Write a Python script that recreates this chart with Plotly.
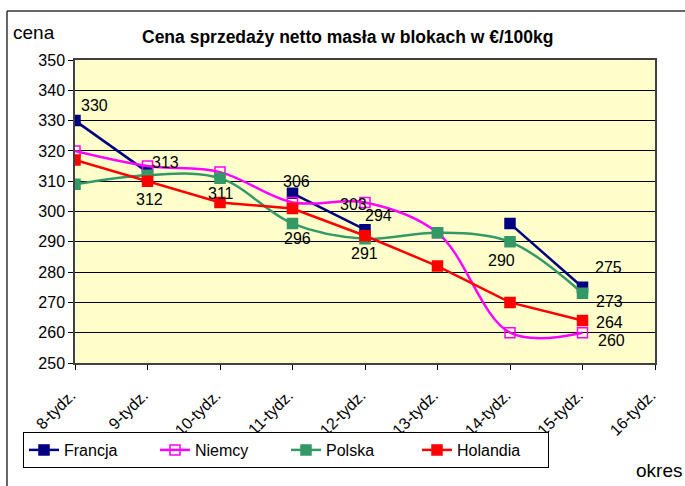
import plotly.graph_objects as go

categories = ["8-tydz.", "9-tydz.", "10-tydz.", "11-tydz.", "12-tydz.", "13-tydz.", "14-tydz.", "15-tydz.", "16-tydz."]
francja = [330, 313, None, 306, 294, None, 296, 275]
niemcy = [320, 315, 313, 303, 303, 293, 260, 260]
polska = [309, 312, 311, 296, 291, 293, 290, 273]
holandia = [317, 310, 303, 301, 292, 282, 270, 264]

# data labels shown on the chart: (series, category index, x shift px, y shift px)
label_spec = [
    ("Francja", 0, 19, 15), ("Francja", 1, 18, 10), ("Polska", 1, 2, -24),
    ("Polska", 2, 1, -15), ("Francja", 3, 4, 12), ("Polska", 3, 5, -15),
    ("Niemcy", 4, -12, -2), ("Francja", 4, 13, 14), ("Polska", 4, -1, -15),
    ("Polska", 6, -9, -19), ("Francja", 7, 26, 20), ("Polska", 7, 27, -8),
    ("Holandia", 7, 27, -2), ("Niemcy", 7, 29, -8),
]

series = {"Francja": francja, "Niemcy": niemcy, "Polska": polska, "Holandia": holandia}
styles = {
    "Francja": dict(color="#000080", symbol="square", shape="linear"),
    "Niemcy": dict(color="#FF00FF", symbol="square-open", shape="spline"),
    "Polska": dict(color="#339966", symbol="square", shape="spline"),
    "Holandia": dict(color="#FF0000", symbol="square", shape="linear"),
}

FONT = "Liberation Sans, Arial, sans-serif"
xs = list(range(len(francja)))

fig = go.Figure()
for name, vals in series.items():
    st = styles[name]
    fig.add_trace(go.Scatter(
        x=xs, y=vals, name=name, mode="lines+markers",
        line=dict(color=st["color"], width=2.5, shape=st["shape"], smoothing=1),
        marker=dict(symbol=st["symbol"], size=10, color=st["color"],
                    line=dict(color=st["color"], width=1.5)),
        connectgaps=False,
    ))

annotations = []
for name, idx, dx, dy in label_spec:
    v = series[name][idx]
    annotations.append(dict(x=idx, y=v, xref="x", yref="y", text=str(v), showarrow=False,
                            xshift=dx, yshift=dy, font=dict(size=16, color="black", family=FONT)))

L, T, W, H = 75, 60, 580, 303
def px(p): return (p - L) / W
def py(p): return (T + H - p) / H

annotations += [
    dict(x=px(347), y=py(37), xref="paper", yref="paper", showarrow=False,
         text="<b>Cena sprzedaży netto masła w blokach w €/100kg</b>",
         font=dict(size=17.5, color="black", family=FONT), xanchor="center", yanchor="middle"),
    dict(x=px(11), y=py(33), xref="paper", yref="paper", showarrow=False, text="cena",
         font=dict(size=19, color="black", family=FONT), xanchor="left", yanchor="middle"),
    dict(x=px(634), y=py(470), xref="paper", yref="paper", showarrow=False, text="okres",
         font=dict(size=19, color="black", family=FONT), xanchor="left", yanchor="middle"),
]

shapes = [
    dict(type="line", xref="paper", yref="paper", x0=px(7), x1=px(700), y0=py(11), y1=py(11),
         line=dict(color="#333333", width=1.5)),
    dict(type="line", xref="paper", yref="paper", x0=px(7), x1=px(7), y0=py(11), y1=py(500),
         line=dict(color="#333333", width=1.5)),
]

fig.update_layout(
    width=685, height=486,
    margin=dict(l=L, r=685 - L - W, t=T, b=486 - T - H, autoexpand=False),
    paper_bgcolor="white", plot_bgcolor="#FFFFCC",
    font=dict(family=FONT, color="black", size=16),
    annotations=annotations, shapes=shapes,
    showlegend=True,
    legend=dict(orientation="h", x=px(23), y=py(432), xanchor="left", yanchor="top",
                bordercolor="black", borderwidth=1, bgcolor="white",
                font=dict(size=16, family=FONT), entrywidth=86, entrywidthmode="pixels",
                traceorder="normal"),
)
fig.update_xaxes(
    range=[0, 8], tickmode="array", tickvals=list(range(len(categories))), ticktext=categories,
    tickangle=-45, ticks="outside", ticklen=5, tickcolor="black",
    showgrid=False, showline=True, linecolor="#404040", linewidth=1.5, mirror=True,
    tickfont=dict(size=16, family=FONT), ticklabelstandoff=10, ticklabelshift=-4, zeroline=False,
)
fig.update_yaxes(
    range=[250, 350], dtick=10, ticks="outside", ticklen=5, tickcolor="black",
    showgrid=True, gridcolor="black", gridwidth=1,
    showline=True, linecolor="#404040", linewidth=1.5, mirror=True,
    tickfont=dict(size=16, family=FONT), zeroline=False,
)

fig.write_html("out.html", config={"displayModeBar": False},
               post_script="document.body.style.margin='0';document.body.style.overflow='hidden';")
